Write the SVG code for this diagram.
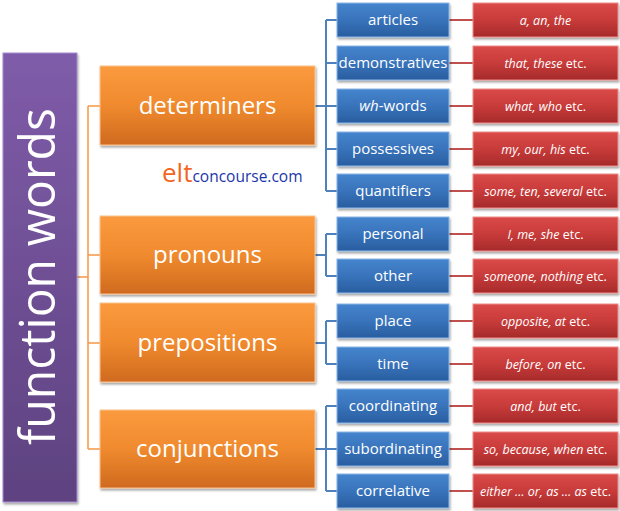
<svg xmlns="http://www.w3.org/2000/svg" width="620" height="511" viewBox="0 0 620 511">
<defs>
<linearGradient id="gPurple" x1="0" y1="0" x2="0" y2="1"><stop offset="0" stop-color="#7f5ca9"/><stop offset="1" stop-color="#5e4280"/></linearGradient>
<linearGradient id="gOrange" x1="0" y1="0" x2="0" y2="1"><stop offset="0" stop-color="#fa9a3e"/><stop offset="0.5" stop-color="#f08a2e"/><stop offset="1" stop-color="#cf6a1f"/></linearGradient>
<linearGradient id="gBlue" x1="0" y1="0" x2="0" y2="1"><stop offset="0" stop-color="#4585cd"/><stop offset="0.5" stop-color="#3873bb"/><stop offset="1" stop-color="#295e9f"/></linearGradient>
<linearGradient id="gRed" x1="0" y1="0" x2="0" y2="1"><stop offset="0" stop-color="#da4a48"/><stop offset="0.5" stop-color="#c83b3a"/><stop offset="1" stop-color="#a62a2a"/></linearGradient>
<filter id="sh" x="-10%" y="-10%" width="130%" height="140%"><feDropShadow dx="1" dy="2" stdDeviation="1" flood-color="#000" flood-opacity="0.35"/></filter>
</defs>
<style>
.purple{fill:url(#gPurple);stroke:#a58bd0;stroke-width:1;filter:url(#sh)}
.orange{fill:url(#gOrange);stroke:#fbc38e;stroke-width:1;filter:url(#sh)}
.blue{fill:url(#gBlue);stroke:#8cb6e8;stroke-width:1;filter:url(#sh)}
.red{fill:url(#gRed);stroke:#ee8f8c;stroke-width:1;filter:url(#sh)}
text{font-family:"Open Sans","DejaVu Sans",sans-serif;fill:#fff;text-anchor:middle}
.t-big{font-size:50px}
.t-or{font-size:24px}
.t-bl{font-size:15px}
.t-rd{font-size:12.5px}
.it{font-style:italic}
.c-or{fill:none;stroke:#f79646;stroke-width:1.5}
.c-bl{fill:none;stroke:#4f81bd;stroke-width:2}
.c-rd{fill:none;stroke:#c0504d;stroke-width:2}
</style>

<g id="connectors">
<path class="c-or" d="M77 277H88M88 106V449M88 106H100M88 255H100M88 343H100M88 449H100"/>
<path class="c-bl" d="M315 106H326M326 20V191M326 20H337M326 63H337M326 106H337M326 149H337M326 191H337"/>
<path class="c-bl" d="M315 255H326M326 234V276M326 234H337M326 276H337"/>
<path class="c-bl" d="M315 343H326M326 321V364M326 321H337M326 364H337"/>
<path class="c-bl" d="M315 449H326M326 406V491M326 406H337M326 449H337M326 491H337"/>
<path class="c-rd" d="M449 20H473M449 63H473M449 106H473M449 149H473M449 191H473M449 234H473M449 276H473M449 321H473M449 364H473M449 406H473M449 449H473M449 491H473"/>
</g>

<g id="function-words">
<rect class="purple" x="3" y="53" width="74" height="449"/>
<text class="t-big" transform="translate(55,276.5) rotate(-90)" textLength="337" lengthAdjust="spacingAndGlyphs">function words</text>
</g>

<g id="determiners"><rect class="orange" x="100" y="66" width="215" height="79"/><text class="t-or" x="207.5" y="113.5">determiners</text></g>
<g id="pronouns"><rect class="orange" x="100" y="216" width="215" height="78"/><text class="t-or" x="207.5" y="262.5">pronouns</text></g>
<g id="prepositions"><rect class="orange" x="100" y="303" width="215" height="79"/><text class="t-or" x="207.5" y="350.5">prepositions</text></g>
<g id="conjunctions"><rect class="orange" x="100" y="410" width="215" height="78"/><text class="t-or" x="207.5" y="456.5">conjunctions</text></g>

<g id="logo">
<text x="162" y="182" style="text-anchor:start"><tspan style="font-size:26px;fill:#f26522">elt</tspan><tspan style="font-size:15.5px;fill:#1c35a8">concourse.com</tspan></text>
</g>

<g id="articles"><rect class="blue" x="337" y="3" width="112" height="34"/><text class="t-bl" x="393" y="25">articles</text></g>
<g id="demonstratives"><rect class="blue" x="337" y="46" width="112" height="34"/><text class="t-bl" x="393" y="68">demonstratives</text></g>
<g id="wh-words"><rect class="blue" x="337" y="89" width="112" height="34"/><text class="t-bl" x="393" y="111"><tspan class="it">wh</tspan>-words</text></g>
<g id="possessives"><rect class="blue" x="337" y="132" width="112" height="34"/><text class="t-bl" x="393" y="154">possessives</text></g>
<g id="quantifiers"><rect class="blue" x="337" y="174" width="112" height="34"/><text class="t-bl" x="393" y="196">quantifiers</text></g>
<g id="personal"><rect class="blue" x="337" y="217" width="112" height="34"/><text class="t-bl" x="393" y="239">personal</text></g>
<g id="other"><rect class="blue" x="337" y="259" width="112" height="34"/><text class="t-bl" x="393" y="281">other</text></g>
<g id="place"><rect class="blue" x="337" y="304" width="112" height="34"/><text class="t-bl" x="393" y="326">place</text></g>
<g id="time"><rect class="blue" x="337" y="347" width="112" height="34"/><text class="t-bl" x="393" y="369">time</text></g>
<g id="coordinating"><rect class="blue" x="337" y="389" width="112" height="34"/><text class="t-bl" x="393" y="411">coordinating</text></g>
<g id="subordinating"><rect class="blue" x="337" y="432" width="112" height="34"/><text class="t-bl" x="393" y="454">subordinating</text></g>
<g id="correlative"><rect class="blue" x="337" y="474" width="112" height="34"/><text class="t-bl" x="393" y="496">correlative</text></g>

<g id="ex-articles"><rect class="red" x="473" y="3" width="145" height="34"/><text class="t-rd" x="545.5" y="24.5"><tspan class="it">a, an, the</tspan></text></g>
<g id="ex-demonstratives"><rect class="red" x="473" y="46" width="145" height="34"/><text class="t-rd" x="545.5" y="67.5"><tspan class="it">that, these</tspan> etc.</text></g>
<g id="ex-wh-words"><rect class="red" x="473" y="89" width="145" height="34"/><text class="t-rd" x="545.5" y="110.5"><tspan class="it">what, who</tspan> etc.</text></g>
<g id="ex-possessives"><rect class="red" x="473" y="132" width="145" height="34"/><text class="t-rd" x="545.5" y="153.5"><tspan class="it">my, our, his</tspan> etc.</text></g>
<g id="ex-quantifiers"><rect class="red" x="473" y="174" width="145" height="34"/><text class="t-rd" x="545.5" y="195.5"><tspan class="it">some, ten, several</tspan> etc.</text></g>
<g id="ex-personal"><rect class="red" x="473" y="217" width="145" height="34"/><text class="t-rd" x="545.5" y="238.5"><tspan class="it">I, me, she</tspan> etc.</text></g>
<g id="ex-other"><rect class="red" x="473" y="259" width="145" height="34"/><text class="t-rd" x="545.5" y="280.5"><tspan class="it">someone, nothing</tspan> etc.</text></g>
<g id="ex-place"><rect class="red" x="473" y="304" width="145" height="34"/><text class="t-rd" x="545.5" y="325.5"><tspan class="it">opposite, at</tspan> etc.</text></g>
<g id="ex-time"><rect class="red" x="473" y="347" width="145" height="34"/><text class="t-rd" x="545.5" y="368.5"><tspan class="it">before, on</tspan> etc.</text></g>
<g id="ex-coordinating"><rect class="red" x="473" y="389" width="145" height="34"/><text class="t-rd" x="545.5" y="410.5"><tspan class="it">and, but</tspan> etc.</text></g>
<g id="ex-subordinating"><rect class="red" x="473" y="432" width="145" height="34"/><text class="t-rd" x="545.5" y="453.5"><tspan class="it">so, because, when</tspan> etc.</text></g>
<g id="ex-correlative"><rect class="red" x="473" y="474" width="145" height="34"/><text class="t-rd" x="545.5" y="495.5"><tspan class="it">either … or, as … as</tspan> etc.</text></g>
</svg>
